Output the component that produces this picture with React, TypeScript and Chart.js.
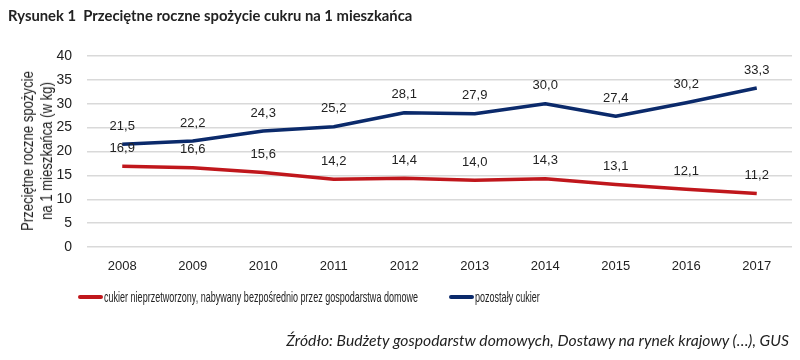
import React, { useEffect, useRef } from "react";
import { Chart, registerables } from "chart.js";

Chart.register(...registerables);

const years = ["2008", "2009", "2010", "2011", "2012", "2013", "2014", "2015", "2016", "2017"];
const unprocessed = [16.9, 16.6, 15.6, 14.2, 14.4, 14.0, 14.3, 13.1, 12.1, 11.2];
const otherSugar = [21.5, 22.2, 24.3, 25.2, 28.1, 27.9, 30.0, 27.4, 30.2, 33.3];
const seriesNames = [
  "cukier nieprzetworzony, nabywany bezpośrednio przez gospodarstwa domowe",
  "pozostały cukier",
];
const yTitle = ["Przeciętne roczne spożycie", "na 1 mieszkańca (w kg)"];
const titleText = "Rysunek 1  Przeciętne roczne spożycie cukru na 1 mieszkańca";
const sourceText = "Źródło: Budżety gospodarstw domowych, Dostawy na rynek krajowy (…), GUS";

const RED = "#C0171C";
const NAVY = "#0B2A6B";
const SANS = "'Liberation Sans', Arial, sans-serif";

const labelPlugin = {
  id: "pointLabels",
  afterDatasetsDraw(chart: any) {
    const ctx = chart.ctx;
    ctx.save();
    ctx.font = `13px ${SANS}`;
    ctx.fillStyle = "#222";
    ctx.textAlign = "center";
    ctx.textBaseline = "middle";
    chart.data.datasets.forEach((ds: any, i: number) => {
      const meta = chart.getDatasetMeta(i);
      meta.data.forEach((pt: any, j: number) => {
        const v = ds.data[j] as number;
        ctx.fillText(v.toFixed(1).replace(".", ","), pt.x, pt.y - 18);
      });
    });
    ctx.restore();
  },
};

export default function App() {
  const ref = useRef<HTMLCanvasElement>(null);
  useEffect(() => {
    if (!ref.current) return;
    const chart = new Chart(ref.current, {
      type: "line",
      data: {
        labels: years,
        datasets: [
          {
            label: seriesNames[0],
            data: unprocessed,
            borderColor: RED,
            backgroundColor: RED,
            borderWidth: 3.5,
            pointRadius: 0,
            tension: 0,
            borderJoinStyle: "round",
          },
          {
            label: seriesNames[1],
            data: otherSugar,
            borderColor: NAVY,
            backgroundColor: NAVY,
            borderWidth: 3.5,
            pointRadius: 0,
            tension: 0,
            borderJoinStyle: "round",
          },
        ],
      },
      options: {
        animation: false,
        responsive: false,
        layout: { padding: { top: 56, right: 8, left: 0, bottom: 0 } },
        plugins: { legend: { display: false }, title: { display: false }, tooltip: { enabled: false } },
        scales: {
          x: {
            offset: true,
            grid: { display: false, drawTicks: false },
            border: { display: false },
            ticks: { color: "#222", font: { family: SANS, size: 13 }, padding: 12, maxRotation: 0 },
            afterFit: (s: any) => {
              s.height = 113;
            },
          },
          y: {
            min: 0,
            max: 40,
            ticks: { stepSize: 5, color: "#222", font: { family: SANS, size: 14 }, padding: 15 },
            grid: { color: "#D9D9D9", lineWidth: 1.5, drawTicks: false },
            border: { display: false },
            afterFit: (s: any) => {
              s.width = 87;
            },
          },
        },
      },
      plugins: [labelPlugin],
    });
    return () => chart.destroy();
  }, []);

  return (
    <div style={{ position: "fixed", left: 0, top: 0, width: 800, height: 360, background: "#fff" }}>
      <canvas ref={ref} width={800} height={360} style={{ position: "absolute", left: 0, top: 0 }} />
      <div
        style={{
          position: "absolute",
          left: 8,
          top: 6,
          fontFamily: "Lato, 'Open Sans', sans-serif",
          fontWeight: 700,
          fontSize: 14.8,
          color: "#222",
          whiteSpace: "pre",
        }}
      >
        {titleText}
      </div>
      <div style={{ position: "absolute", left: 37, top: 151, width: 0, height: 0 }}>
        <div
          style={{
            position: "absolute",
            left: 0,
            top: 0,
            transform: "translate(-50%, -50%) rotate(-90deg) scaleX(0.82)",
            fontFamily: SANS,
            fontSize: 16,
            lineHeight: "19px",
            color: "#222",
            textAlign: "center",
            whiteSpace: "pre",
          }}
        >
          {yTitle.join("\n")}
        </div>
      </div>
      <div
        style={{
          position: "absolute",
          left: 78,
          top: 288,
          display: "flex",
          alignItems: "center",
          fontFamily: SANS,
          fontSize: 15,
          color: "#222",
          whiteSpace: "pre",
        }}
      >
        <span style={{ display: "inline-block", width: 25, height: 4, background: RED, borderRadius: 2 }} />
        <span style={{ display: "inline-block", marginLeft: 1, width: 316 }}>
          <span style={{ display: "inline-block", transform: "scaleX(0.602)", transformOrigin: "left center" }}>{seriesNames[0]}</span>
        </span>
        <span style={{ display: "inline-block", width: 25, height: 4, background: NAVY, borderRadius: 2, marginLeft: 29 }} />
        <span style={{ display: "inline-block", marginLeft: 1 }}>
          <span style={{ display: "inline-block", transform: "scaleX(0.602)", transformOrigin: "left center" }}>{seriesNames[1]}</span>
        </span>
      </div>
      <div
        style={{
          position: "absolute",
          right: 11,
          top: 331,
          fontFamily: "Lato, 'Open Sans', sans-serif",
          fontStyle: "italic",
          fontSize: 15.7,
          color: "#222",
          whiteSpace: "pre",
        }}
      >
        {sourceText}
      </div>
    </div>
  );
}
